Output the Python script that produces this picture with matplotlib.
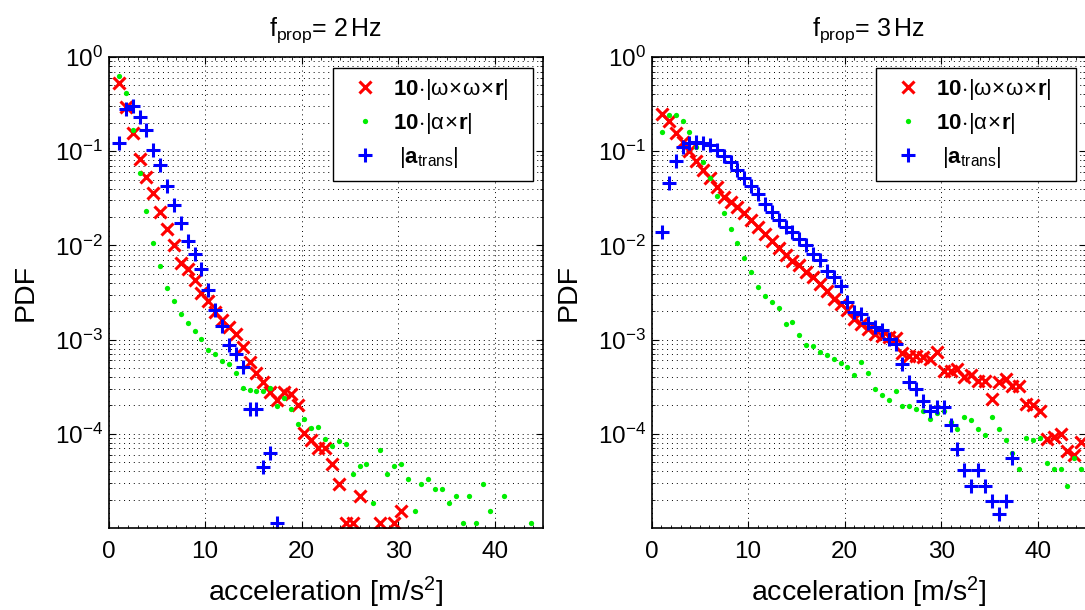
import numpy as np
import matplotlib
matplotlib.use('Agg')
import matplotlib.pyplot as plt
from matplotlib.patches import Rectangle
from matplotlib.ticker import MultipleLocator, LogLocator, NullFormatter

plt.rcParams['font.family'] = ['Liberation Sans', 'DejaVu Sans']
plt.rcParams['mathtext.fontset'] = 'custom'
plt.rcParams['mathtext.rm'] = 'Liberation Sans'
plt.rcParams['mathtext.it'] = 'Liberation Sans:italic'
plt.rcParams['mathtext.bf'] = 'Liberation Sans:bold'

# histogram bin centres [m/s^2]
accel_bins = [1.07, 1.78, 2.49, 3.21, 3.92, 4.63, 5.34, 6.05, 6.77, 7.48,
              8.19, 8.90, 9.61, 10.33, 11.04, 11.75, 12.46, 13.17, 13.89, 14.60,
              15.31, 16.02, 16.73, 17.45, 18.16, 18.87, 19.58, 20.29, 21.01, 21.72,
              22.43, 23.14, 23.85, 24.57, 25.28, 25.99, 26.70, 27.41, 28.13, 28.84,
              29.55, 30.26, 30.97, 31.69, 32.40, 33.11, 33.82, 34.53, 35.25, 35.96,
              36.67, 37.38, 38.09, 38.81, 39.52, 40.23, 40.94, 41.65, 42.37, 43.08,
              43.79, 44.50]

# f_prop = 2 Hz
pdf2_centripetal = [0.525, 0.295, 0.155, 0.083, 0.0537, 0.0363, 0.0224, 0.0151, 0.0102, 0.00646,
                    0.00562, 0.00427, 0.00316, 0.00257, 0.00195, 0.00162, 0.00135, 0.00115, 0.000832, 0.000575,
                    0.000447, 0.000355, 0.000275, 0.000229, 0.000275, 0.000263, 0.000200, 0.000102, 8.5e-5, 7.1e-5,
                    7.1e-5, 4.8e-5, 2.95e-5, 1.12e-5, 1.12e-5, 2.2e-5, None, None, 1.12e-5, None,
                    1.12e-5, 1.5e-5]
pdf2_tangential = [0.631, 0.417, 0.166, 0.0589, 0.0229, 0.0107, 0.00603, 0.00355, 0.00257, 0.00186,
                   0.00151, 0.00123, 0.00102, 0.000776, 0.000708, 0.000589, 0.000550, 0.000447, 0.000309, 0.000295,
                   0.000288, 0.000282, 0.000309, 0.000195, 0.000240, 0.000182, 0.000126, 0.000145, 0.000115, 0.000117,
                   8.9e-5, 7.4e-5, 8.3e-5, 7.8e-5, 3.7e-5, 4.5e-5, 4.8e-5, 1.86e-5, 6.8e-5, 3.7e-5,
                   4.5e-5, 4.8e-5, 3.3e-5, 1.5e-5, 2.95e-5, 3.3e-5, 2.6e-5, 2.6e-5, 1.86e-5, 2.2e-5,
                   1.12e-5, 2.2e-5, 1.12e-5, 2.95e-5, 1.5e-5, None, 2.2e-5, None, None, None,
                   1.12e-5]
pdf2_trans = [0.123, 0.282, 0.302, 0.232, 0.166, 0.102, 0.0708, 0.0427, 0.0269, 0.0174,
              0.0112, 0.00813, 0.00562, 0.00339, 0.00204, 0.00141, 0.000871, 0.000708, 0.000513, 0.000182,
              0.000182, 4.4e-5, 6.2e-5, 1.12e-5]

# f_prop = 3 Hz
pdf3_centripetal = [0.251, 0.209, 0.155, 0.126, 0.100, 0.0794, 0.0631, 0.0513, 0.0417, 0.0324,
                    0.0288, 0.0257, 0.0219, 0.0186, 0.0155, 0.0132, 0.0112, 0.00933, 0.00794, 0.00676,
                    0.00617, 0.00525, 0.00457, 0.00389, 0.00331, 0.00269, 0.00240, 0.00204, 0.00166, 0.00148,
                    0.00129, 0.00115, 0.00110, 0.00107, 0.00105, 0.000724, 0.000676, 0.000676, 0.000646, 0.000617,
                    0.000741, 0.000468, 0.000468, 0.000490, 0.000398, 0.000417, 0.000363, 0.000363, 0.000234, 0.000355,
                    0.000380, 0.000324, 0.000324, 0.000209, 0.000200, 0.000174, 8.9e-5, 9.3e-5, 1.0e-4, 6.6e-5,
                    6.0e-5, 8.1e-5]
pdf3_tangential = [0.158, 0.240, 0.245, 0.209, 0.158, 0.112, 0.0776, 0.0513, 0.0331, 0.0219,
                   0.0151, 0.0105, 0.00741, 0.00525, 0.00363, 0.00288, 0.00251, 0.00219, 0.00148, 0.00155,
                   0.00112, 0.000871, 0.000851, 0.000741, 0.000692, 0.000617, 0.000562, 0.000513, 0.000417, 0.000575,
                   0.000437, 0.000302, 0.000257, 0.000229, 0.000288, 0.000195, 0.000195, 0.000182, 0.000174, 0.000145,
                   0.000166, 0.000174, 0.000132, 0.000112, 0.000151, 0.000141, 0.000112, 9.8e-5, 0.000151, 0.000112,
                   8.5e-5, 6.3e-5, 4.2e-5, 9.1e-5, 8.5e-5, 9.1e-5, 4.9e-5, 4.2e-5, 4.2e-5, 2.8e-5,
                   5.6e-5, 4.2e-5]
pdf3_trans = [0.0138, 0.0457, 0.0794, 0.110, 0.123, 0.126, 0.123, 0.115, 0.102, 0.0891,
              0.0759, 0.0631, 0.0525, 0.0427, 0.0347, 0.0275, 0.0224, 0.0186, 0.0155, 0.0138,
              0.0117, 0.0100, 0.00813, 0.00692, 0.00537, 0.00457, 0.00372, 0.00251, 0.00195, 0.00186,
              0.00151, 0.00135, 0.00126, 0.00102, 0.000891, 0.000550, 0.000355, 0.000302, 0.000224, 0.000174,
              0.000191, 0.000191, 0.000123, 6.9e-5, 4.1e-5, 2.8e-5, 4.1e-5, 2.8e-5, 1.95e-5, 1.4e-5,
              1.95e-5, 5.6e-5]

titles = [r'$\mathrm{f}_{\mathrm{prop}}$= 2$\,$Hz', r'$\mathrm{f}_{\mathrm{prop}}$= 3$\,$Hz']
labels = [r'$\mathbf{10}\!\cdot\!|\mathrm{\omega}\!\times\!\mathrm{\omega}\!\times\!\mathbf{r}|$',
          r'$\mathbf{10}\!\cdot\!|\mathrm{\alpha}\!\times\!\mathbf{r}|$',
          r' $|\mathbf{a}_{\mathrm{trans}}|$']
yticks = [1e0, 1e-1, 1e-2, 1e-3, 1e-4]


def draw_panel(ax, rot, tan, trans, title):
    xb = np.array(accel_bins)
    r = np.array(rot, dtype=float)
    t = np.array(tan, dtype=float)
    a = np.array(trans, dtype=float)
    ax.semilogy(xb[:len(r)], r, 'x', color='red', ms=8, mew=2.2, label=labels[0])
    ax.semilogy(xb[:len(t)], t, 'o', color='#00ee00', ms=3.8, mew=0, label=labels[1])
    ax.semilogy(xb[:len(a)], a, '+', color='blue', ms=10.5, mew=2.2, label=labels[2])
    ax.set_xlim(0, 45)
    ax.set_ylim(1e-5, 1)
    ax.set_yticks(yticks)
    ax.yaxis.set_minor_locator(LogLocator(base=10, subs=np.arange(2, 10)))
    ax.yaxis.set_minor_formatter(NullFormatter())
    ax.xaxis.set_major_locator(MultipleLocator(10))
    ax.xaxis.set_minor_locator(MultipleLocator(1))
    ax.tick_params(which='both', direction='in', top=True, right=True, labelsize=17.5)
    ax.tick_params(which='major', length=5, width=0.8)
    ax.tick_params(which='minor', length=2.5, width=0.6)
    ax.tick_params(axis='x', pad=9)
    ax.tick_params(axis='y', pad=4)
    ax.grid(True, which='major', color='k', ls=(0, (1, 4)), lw=0.7)
    ax.yaxis.grid(True, which='minor', color='k', ls=(0, (1, 4)), lw=0.7)
    for s in ax.spines.values():
        s.set_linewidth(1.2)
    ax.set_xlabel(r'acceleration [m/s$^2$]', fontsize=20.5)
    ax.set_ylabel('PDF', fontsize=20.5)
    ax.xaxis.set_label_coords(0.5, -0.1)
    ax.yaxis.set_label_coords(-0.16, 0.5)
    ax.set_title(title, fontsize=18, pad=15)
    # legend box drawn separately (MATLAB-style wide frame)
    box = Rectangle((0.517, 0.737), 0.46, 0.24, transform=ax.transAxes,
                    facecolor='white', edgecolor='k', lw=1.0, zorder=4.9)
    ax.add_patch(box)
    ax.legend(loc='upper left', bbox_to_anchor=(0.517, 0.986), borderaxespad=0,
              fontsize=16, frameon=False,
              handlelength=1.7, handletextpad=0.4, labelspacing=0.4,
              borderpad=0.6, numpoints=1)


fig = plt.figure(figsize=(10.85, 6.10), dpi=100)
ax1 = fig.add_axes([0.1001, 0.1344, 0.4004, 0.7722])
ax2 = fig.add_axes([0.6005, 0.1344, 0.4004, 0.7722])

draw_panel(ax1, pdf2_centripetal, pdf2_tangential, pdf2_trans, titles[0])
draw_panel(ax2, pdf3_centripetal, pdf3_tangential, pdf3_trans, titles[1])

plt.savefig('out.png', dpi=100)
